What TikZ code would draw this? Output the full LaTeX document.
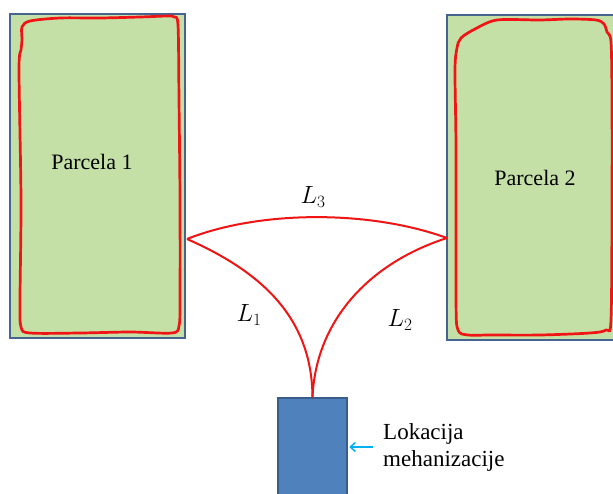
\documentclass[tikz,border=0pt]{standalone}
\usepackage{fontspec}
\setmainfont{Liberation Serif}
\usetikzlibrary{arrows.meta}
\definecolor{fieldgreen}{RGB}{197,224,167}
\definecolor{fieldedge}{RGB}{70,100,145}
\definecolor{mechblue}{RGB}{79,129,189}
\definecolor{mechedge}{RGB}{56,93,138}
\definecolor{routered}{RGB}{240,20,20}
\definecolor{pointcyan}{RGB}{0,176,240}
\begin{document}
\begin{tikzpicture}[x=1pt,y=-1pt,
  parcel/.style={draw=fieldedge, fill=fieldgreen, line width=2pt, inner sep=0pt},
  border/.style={draw=routered, line width=2.7pt, line join=round},
  route/.style={draw=routered, line width=2pt},
  txt/.style={font=\fontsize{22}{26}\selectfont, inner sep=0pt},
  dist/.style={font=\fontsize{25}{28}\selectfont, inner sep=0pt}]
\useasboundingbox (0,0) rectangle (613,493);
\clip (0,0) rectangle (613,493);
\fill[white] (0,0) rectangle (613,493);
% parcels and machinery
\node[parcel, minimum width=175pt, minimum height=324pt] (parcel1) at (97.5,176) {};
\node[parcel, minimum width=180pt, minimum height=325pt] (parcel2) at (537,177.5) {};
\node[draw=mechedge, fill=mechblue, line width=1.5pt, minimum width=69pt, minimum height=112pt] (mech) at (312.5,454) {};
% field boundaries
\draw[border] plot[smooth cycle, tension=0.5] coordinates {(22,27) (30,21) (60,18) (100,18) (140,17) (168,16) (174,17) (178,25) (179,100) (180,200) (180,300) (179,326) (172,333) (130,332) (80,333) (30,333) (21,327) (20,300) (21,200) (19,70) (21,50) (22,40)};
\draw[border] plot[smooth cycle, tension=0.5] coordinates {(461,38) (475,29) (497,20) (540,20) (570,19) (596,20) (604,24) (607,32) (611,42) (612,100) (612,200) (611,320) (606,330) (590,333) (540,335) (490,335) (468,335) (458,330) (456,300) (456,150) (455,70) (457,48)};
\node[txt] (name1) at (92,162) {Parcela 1};
\node[txt] (name2) at (535,178) {Parcela 2};
% routes
\coordinate (exit1) at (187,239);
\coordinate (exit2) at (447,238);
\coordinate (depot) at (mech.north);
\draw[route] (exit1) .. controls (260,210) and (370,210) .. (exit2);
\draw[route] (exit1) .. controls (262,272) and (312,318) .. (depot);
\draw[route] (exit2) .. controls (372,262) and (316,318) .. (depot);
\node[dist] (l3) at (313,197) {$L_3$};
\node[dist] (l1) at (249,315) {$L_1$};
\node[dist] (l2) at (400,320) {$L_2$};
% location label
\node[txt, font=\fontsize{23}{27}\selectfont, anchor=west, align=left] (place) at (383,447) {Lokacija\\mehanizacije};
\draw[pointcyan, line width=1.5pt, -{Straight Barb[length=5pt,width=9pt]}, shorten <=10pt, shorten >=1.5pt] (place.west) -- (place.west -| mech.east);
\end{tikzpicture}
\end{document}
